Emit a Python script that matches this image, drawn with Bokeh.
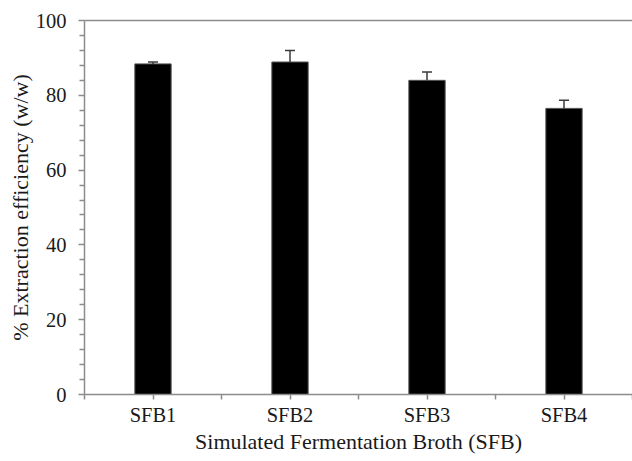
from bokeh.plotting import figure
from bokeh.models import (ColumnDataSource, FixedTicker, LinearAxis, Range1d, Whisker)
from bokeh.embed import file_html
from bokeh.resources import INLINE

categories = ["SFB1", "SFB2", "SFB3", "SFB4"]
efficiency = [88.4, 88.9, 84.0, 76.5]
error = [0.5, 3.1, 2.2, 2.2]
y_ticks = [0, 20, 40, 60, 80, 100]

xs = list(range(1, len(categories) + 1))
src = ColumnDataSource(dict(
    x=xs, top=efficiency,
    upper=[v + e for v, e in zip(efficiency, error)],
    lower=efficiency,
))

FONT = "'Liberation Serif', 'Times New Roman', 'DejaVu Serif', serif"
AXIS_COLOR = "#8c8c8c"
TEXT_COLOR = "#1a1a1a"

p = figure(width=632, height=461, output_backend="svg", toolbar_location=None,
           x_range=Range1d(0.5, 4.5), y_range=Range1d(0, 100),
           min_border_left=84, min_border_right=0, min_border_top=20,
           min_border_bottom=67)
p.outline_line_color = None
p.grid.grid_line_color = None
p.background_fill_color = "white"
p.border_fill_color = "white"

p.vbar(x="x", top="top", bottom=0, width=0.265, source=src,
       fill_color="black", line_color="#555555", line_width=1)

w = Whisker(base="x", upper="upper", lower="lower", source=src,
            line_color="#3a3a3a", line_width=1.5, level="overlay")
w.upper_head.size = 10
w.upper_head.line_color = "#3a3a3a"
w.upper_head.line_width = 1.5
w.lower_head = None
p.add_layout(w)

# x axis: ticks at centres and boundaries
xa = p.xaxis[0]
tick_pos = [0.5 + 0.5 * i for i in range(2 * len(categories) + 1)]
xa.ticker = FixedTicker(ticks=tick_pos)
overrides = {}
for t in tick_pos:
    overrides[t] = ""
for i, c in enumerate(categories):
    overrides[i + 1] = c
xa.major_label_overrides = overrides
xa.axis_label = "Simulated Fermentation Broth (SFB)"

ya = p.yaxis[0]
ya.ticker = FixedTicker(ticks=y_ticks, minor_ticks=[v for v in range(0, 101, 4) if v % 20 != 0])
ya.axis_label = "% Extraction efficiency (w/w)"

for ax in (xa, ya):
    ax.axis_line_color = AXIS_COLOR
    ax.axis_line_width = 1.5
    ax.major_tick_line_color = AXIS_COLOR
    ax.minor_tick_line_color = AXIS_COLOR
    ax.major_tick_line_width = 1.5
    ax.minor_tick_line_width = 1.5
    ax.major_tick_in = 0
    ax.minor_tick_in = 0
    ax.major_label_text_font = FONT
    ax.major_label_text_font_size = "20.5px"
    ax.major_label_text_color = TEXT_COLOR
    ax.axis_label_text_font = FONT
    ax.axis_label_text_font_size = "22px"
    ax.axis_label_text_font_style = "normal"
    ax.axis_label_text_color = TEXT_COLOR

xa.major_tick_out = 5
xa.minor_tick_line_color = None
xa.major_label_standoff = 4
xa.axis_label_standoff = 0
ya.major_tick_out = 6
ya.minor_tick_out = 5
ya.major_label_standoff = 12
ya.axis_label_standoff = 0

top_axis = LinearAxis(ticker=FixedTicker(ticks=[]), axis_line_color=AXIS_COLOR,
                      axis_line_width=1.5, major_tick_line_color=None,
                      minor_tick_line_color=None, major_label_text_font_size="0px")
p.add_layout(top_axis, "above")

open("out.html", "w").write(file_html(p, INLINE))
